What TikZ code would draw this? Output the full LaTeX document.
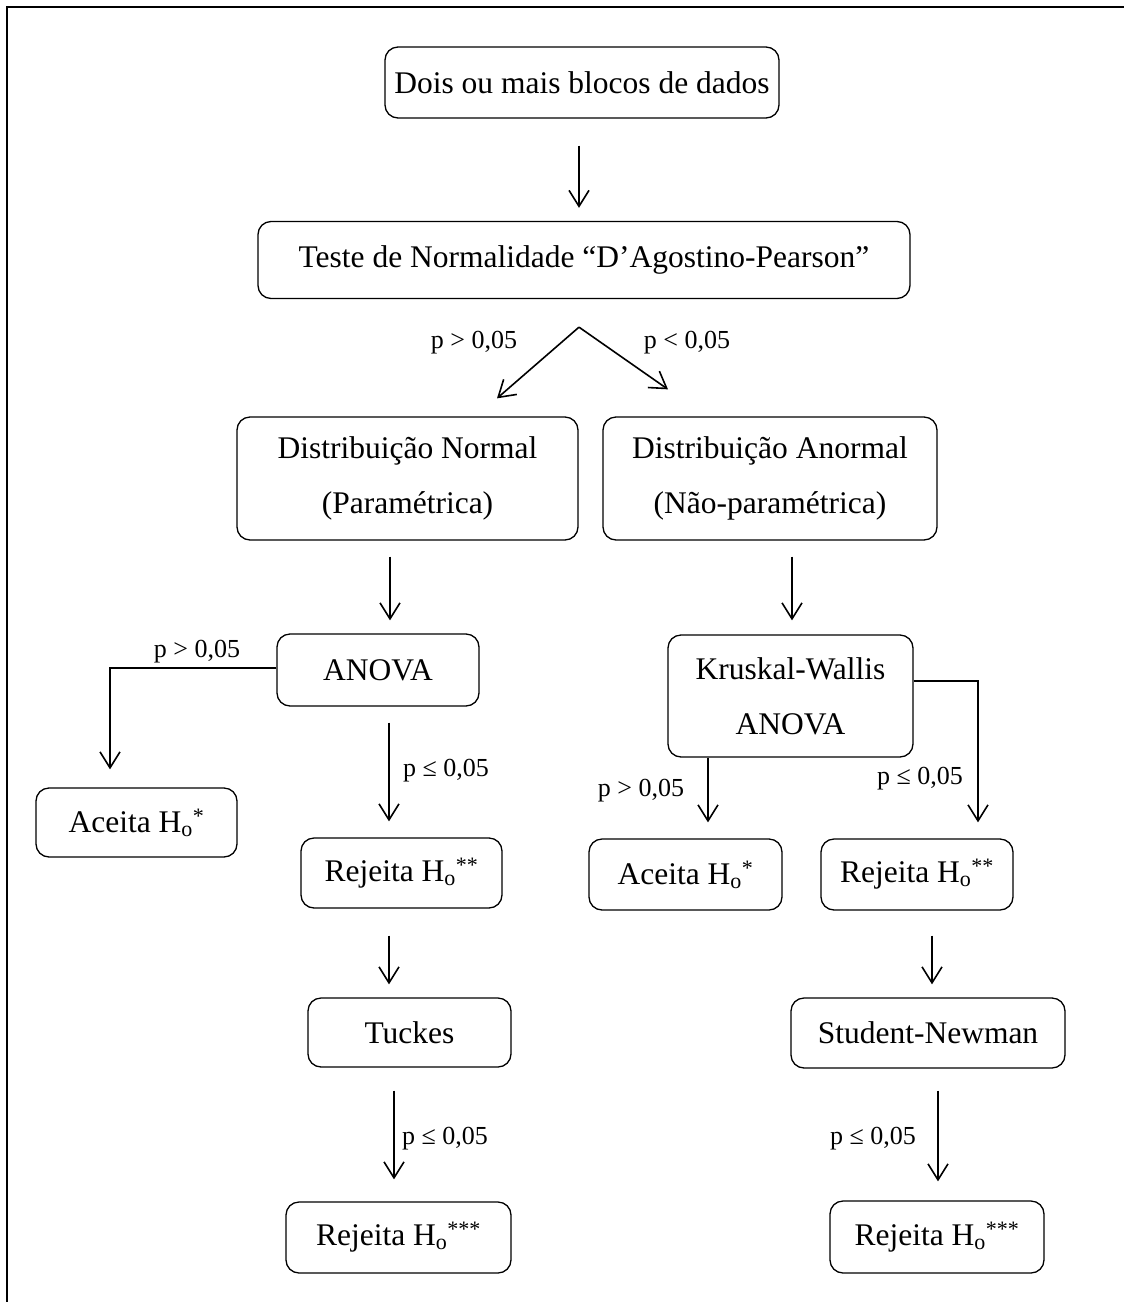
\documentclass[tikz,border=0pt]{standalone}
\usepackage{fontspec}
\setmainfont{Liberation Serif}
\usepackage{tikz}
\usetikzlibrary{arrows.meta,positioning}
\tikzstyle{seta} = [line width=1.6pt,-{Straight Barb[length=16pt,width=20pt]}]
\tikzstyle{caixa} = [rectangle, rounded corners=13pt, draw, line width=1.3pt, text centered, align=center, inner sep=0pt, font=\fontsize{31.5}{55}\selectfont]
\tikzstyle{rotulo} = [inner sep=0pt, font=\fontsize{26}{30}\selectfont]
\begin{document}
\begin{tikzpicture}[x=1pt, y=-1pt]
\useasboundingbox (0,0) rectangle (1124,1302);
\draw[line width=2.5pt] (7,1302) -- (7,7) -- (1124,7);

% Dados e teste
\node (dados) [caixa, minimum width=394pt, minimum height=71pt] at (582,82.5) {Dois ou mais blocos de dados};
\node (teste) [caixa, minimum width=652pt, minimum height=77pt] at (584,260) {Teste de Normalidade “D’Agostino-Pearson”};
\coordinate (split) at ([xshift=-5pt,yshift=-28pt]teste.south);

% Distribuicoes
\node (normal) [caixa, minimum width=341pt, minimum height=123pt] at (407.5,478.5) {Distribuição Normal\\(Paramétrica)};
\node (anormal) [caixa, minimum width=334pt, minimum height=123pt] at (770,478.5) {Distribuição Anormal\\(Não-paramétrica)};

% Testes
\node (anova) [caixa, minimum width=202pt, minimum height=72pt] at (378,670) {ANOVA};
\node (kruskal) [caixa, minimum width=245pt, minimum height=122pt] at (790.5,696) {Kruskal-Wallis\\ANOVA};

% Resultados
\node (aceitaA) [caixa, minimum width=201pt, minimum height=69pt] at (136.5,822.5) {Aceita H\textsubscript{o}\textsuperscript{*}};
\node (rejeitaA) [caixa, minimum width=201pt, minimum height=70pt] at (401.5,873) {Rejeita H\textsubscript{o}\textsuperscript{**}};
\node (aceitaB) [caixa, minimum width=193pt, minimum height=71pt] at (685.5,874.5) {Aceita H\textsubscript{o}\textsuperscript{*}};
\node (rejeitaB) [caixa, minimum width=192pt, minimum height=71pt] at (917,874.5) {Rejeita H\textsubscript{o}\textsuperscript{**}};

% Pos-testes
\node (tuckes) [caixa, minimum width=203pt, minimum height=69pt] at (409.5,1032.5) {Tuckes};
\node (student) [caixa, minimum width=274pt, minimum height=70pt] at (928,1033) {Student-Newman};
\node (finalA) [caixa, minimum width=225pt, minimum height=71pt] at (398.5,1237.5) {Rejeita H\textsubscript{o}\textsuperscript{***}};
\node (finalB) [caixa, minimum width=214pt, minimum height=72pt] at (937,1237) {Rejeita H\textsubscript{o}\textsuperscript{***}};

% Setas
\draw[seta, shorten <=27pt, shorten >=13pt] ([xshift=-3pt]dados.south) -- ([xshift=-3pt]dados.south |- teste.north);
\draw[seta] (split) -- ([xshift=89.5pt,yshift=18pt]normal.north);
\draw[seta] (split) -- ([xshift=-102pt,yshift=27pt]anormal.north);
\draw[seta, shorten <=16pt, shorten >=13pt] ([xshift=-17.5pt]normal.south) -- ([xshift=-17.5pt]normal.south |- anova.north);
\draw[seta, shorten <=16pt, shorten >=14pt] ([xshift=22pt]anormal.south) -- ([xshift=22pt]anormal.south |- kruskal.north);
\draw[seta, shorten >=18pt] ([yshift=2pt]anova.west) -| ([xshift=-26.5pt]aceitaA.north);
\draw[seta, shorten <=16pt, shorten >=16pt] ([xshift=11pt]anova.south) -- ([xshift=11pt]anova.south |- rejeitaA.north);
\draw[seta, shorten >=16pt] ([xshift=-82.5pt]kruskal.south) -- ([xshift=-82.5pt]kruskal.south |- aceitaB.north);
\draw[seta, shorten >=16pt] ([yshift=15pt]kruskal.east) -| ([xshift=61pt]rejeitaB.north);
\draw[seta, shorten <=27pt, shorten >=13pt] ([xshift=-12.5pt]rejeitaA.south) -- ([xshift=-12.5pt]rejeitaA.south |- tuckes.north);
\draw[seta, shorten <=23pt, shorten >=22pt] ([xshift=-15.5pt]tuckes.south) -- ([xshift=-15.5pt]tuckes.south |- finalA.north);
\draw[seta, shorten <=25pt, shorten >=13pt] ([xshift=15pt]rejeitaB.south) -- ([xshift=15pt]rejeitaB.south |- student.north);
\draw[seta, shorten <=22pt, shorten >=19pt] ([xshift=10pt]student.south) -- ([xshift=10pt]student.south |- finalB.north);

% Valores de p
\node (pA) [rotulo] at (474,343) {p > 0,05};
\node (pB) [rotulo] at (687,343) {p < 0,05};
\node (pC) [rotulo] at (197,652) {p > 0,05};
\node (pD) [rotulo] at (446,771) {p ≤ 0,05};
\node (pE) [rotulo] at (641,791) {p > 0,05};
\node (pF) [rotulo] at (920,779) {p ≤ 0,05};
\node (pG) [rotulo] at (445,1139) {p ≤ 0,05};
\node (pH) [rotulo] at (873,1139) {p ≤ 0,05};
\end{tikzpicture}
\end{document}
